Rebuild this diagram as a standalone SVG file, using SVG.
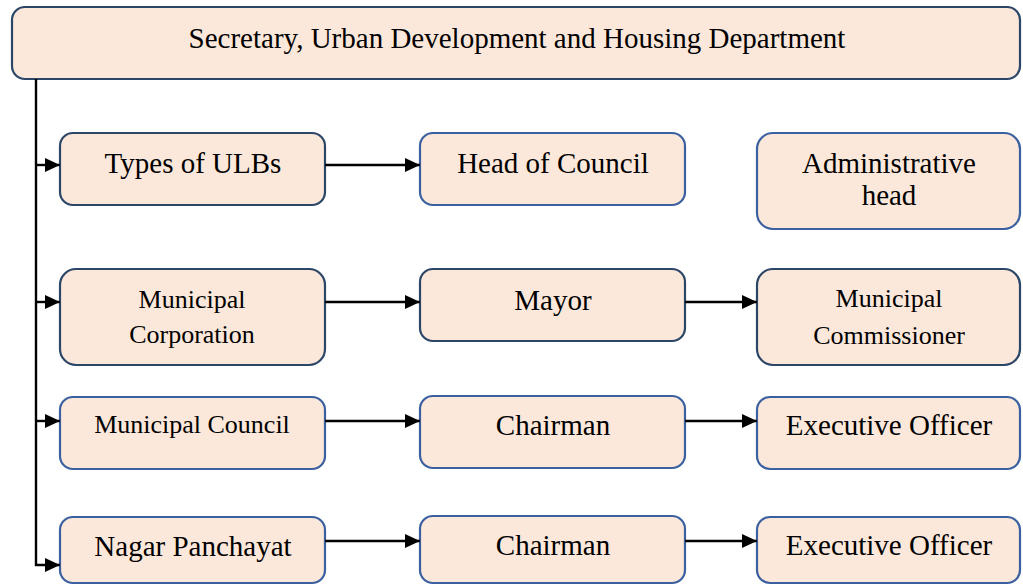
<svg xmlns="http://www.w3.org/2000/svg" width="1023" height="585" viewBox="0 0 1023 585">
<defs>
<marker id="arr" markerUnits="userSpaceOnUse" markerWidth="16" markerHeight="16" viewBox="0 0 16 16" refX="15" refY="8" orient="auto">
<path d="M0,1 L15,8 L0,15 Z" fill="#000"/>
</marker>
</defs>
<style>
.box{fill:#fce8da;stroke-width:2.2}
.d{stroke:#2c4668}
.l{stroke:#3b60a0}
text{font-family:"Liberation Serif","Times New Roman",serif;fill:#000;text-anchor:middle}
.big{font-size:29px}
.sm{font-size:26px}
.c{fill:none;stroke:#000;stroke-width:2.4}
</style>
<g id="n-secretary"><rect class="box d" x="12" y="7" width="1008" height="72" rx="13"/><text class="big" x="517" y="48">Secretary, Urban Development and Housing Department</text></g>
<g id="n-types"><rect class="box d" x="60" y="133" width="265" height="72" rx="13"/><text class="big" x="193" y="173">Types of ULBs</text></g>
<g id="n-headcouncil"><rect class="box l" x="420" y="133" width="265" height="72" rx="13"/><text class="big" x="553" y="173">Head of Council</text></g>
<g id="n-adminhead"><rect class="box l" x="757" y="133" width="263" height="96" rx="16"/><text class="big" x="889" y="173">Administrative</text><text class="big" x="889" y="205">head</text></g>
<g id="n-muncorp"><rect class="box d" x="60" y="269" width="265" height="96" rx="16"/><text class="sm" x="192" y="308">Municipal</text><text class="sm" x="192" y="343">Corporation</text></g>
<g id="n-mayor"><rect class="box d" x="420" y="269" width="265" height="72" rx="13"/><text class="big" x="553" y="310">Mayor</text></g>
<g id="n-muncomm"><rect class="box d" x="757" y="269" width="263" height="96" rx="16"/><text class="sm" x="889" y="307">Municipal</text><text class="sm" x="889" y="344">Commissioner</text></g>
<g id="n-muncouncil"><rect class="box l" x="60" y="397" width="265" height="72" rx="13"/><text class="sm" x="192" y="433">Municipal Council</text></g>
<g id="n-chair1"><rect class="box l" x="420" y="396" width="265" height="72" rx="13"/><text class="big" x="553" y="435">Chairman</text></g>
<g id="n-exec1"><rect class="box l" x="757" y="397" width="263" height="72" rx="13"/><text class="big" x="889" y="435">Executive Officer</text></g>
<g id="n-nagar"><rect class="box l" x="60" y="517" width="265" height="66" rx="13"/><text class="big" x="193" y="556">Nagar Panchayat</text></g>
<g id="n-chair2"><rect class="box l" x="420" y="516" width="265" height="67" rx="13"/><text class="big" x="553" y="555">Chairman</text></g>
<g id="n-exec2"><rect class="box l" x="757" y="517" width="263" height="66" rx="13"/><text class="big" x="889" y="555">Executive Officer</text></g>
<g id="connectors">
<path class="c" d="M36,79 V565 H60" marker-end="url(#arr)"/>
<path class="c" d="M36,165 H60" marker-end="url(#arr)"/>
<path class="c" d="M36,302 H60" marker-end="url(#arr)"/>
<path class="c" d="M36,421 H60" marker-end="url(#arr)"/>
<path class="c" d="M325,165 H420" marker-end="url(#arr)"/>
<path class="c" d="M325,302 H420" marker-end="url(#arr)"/>
<path class="c" d="M325,421 H420" marker-end="url(#arr)"/>
<path class="c" d="M325,541 H420" marker-end="url(#arr)"/>
<path class="c" d="M685,302 H757" marker-end="url(#arr)"/>
<path class="c" d="M685,421 H757" marker-end="url(#arr)"/>
<path class="c" d="M685,541 H757" marker-end="url(#arr)"/>
</g>
</svg>
